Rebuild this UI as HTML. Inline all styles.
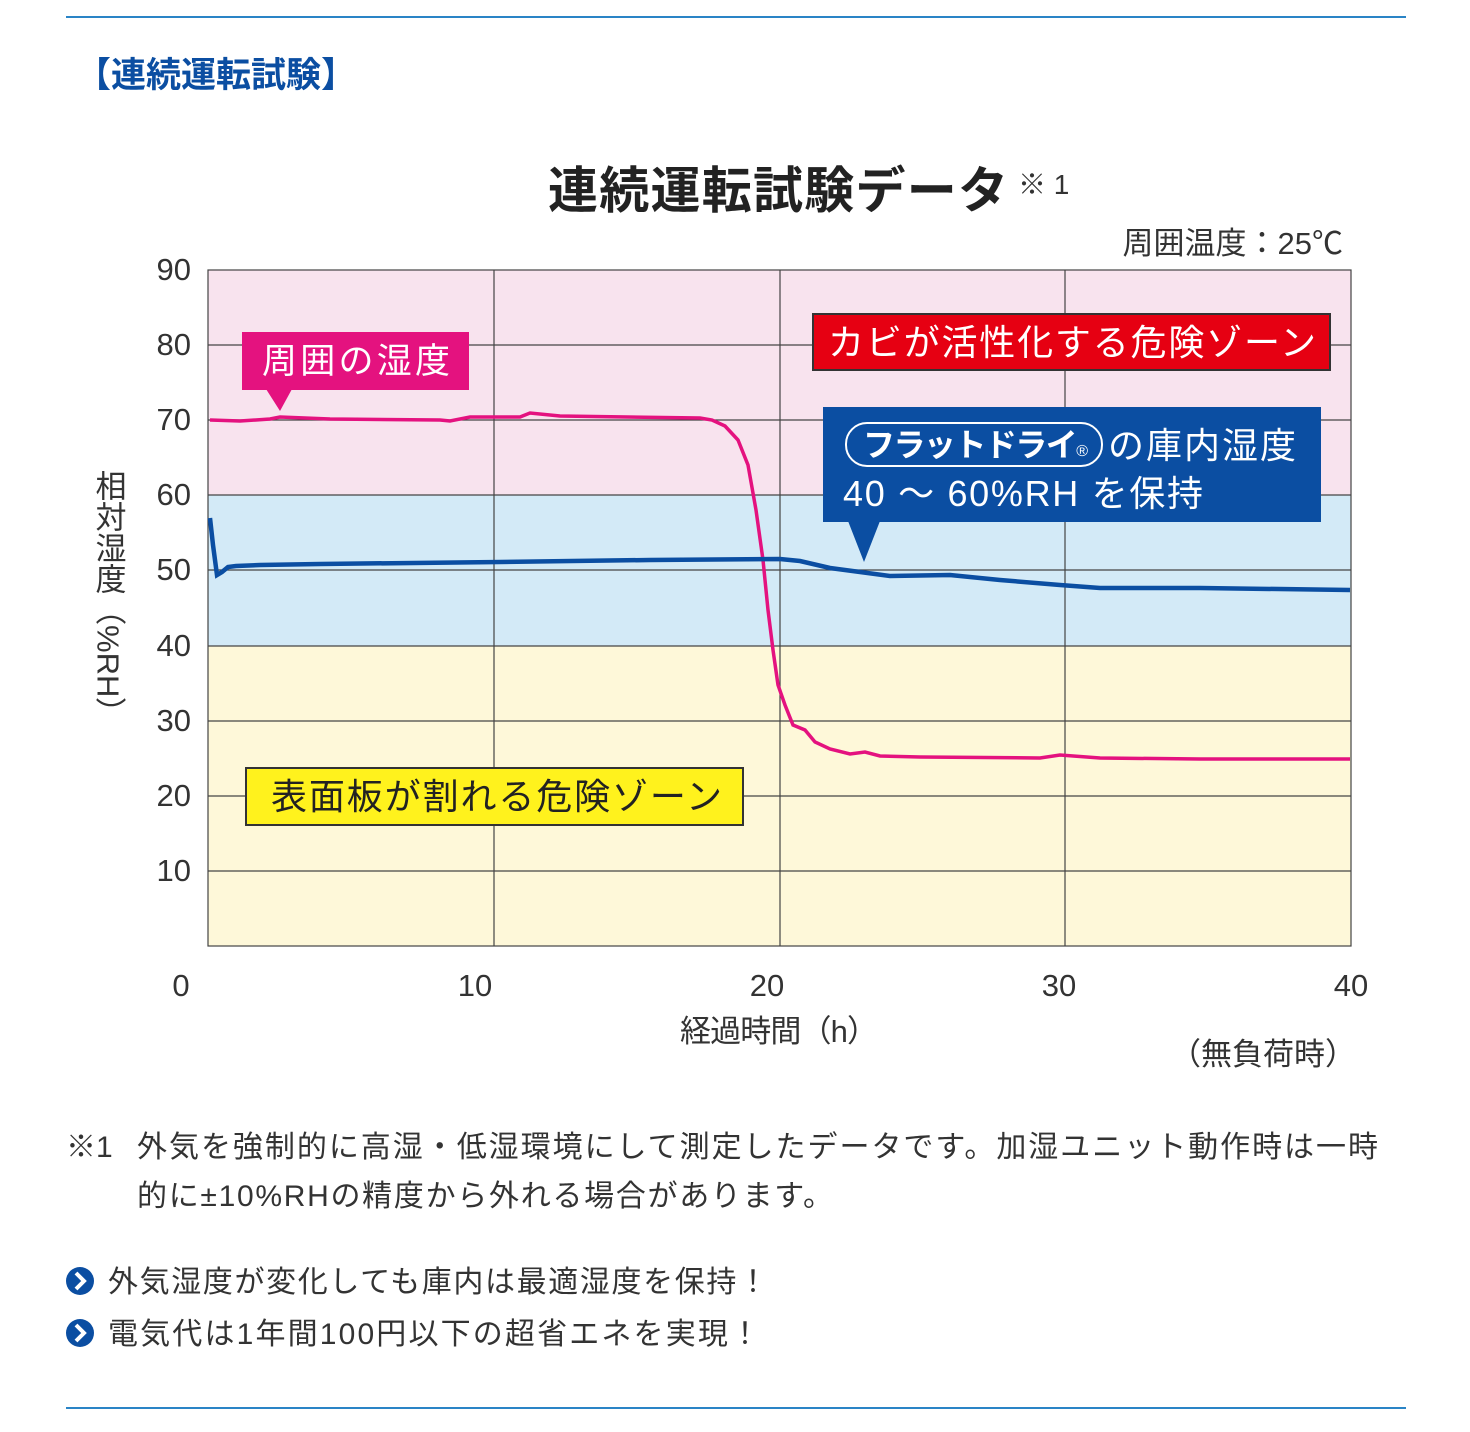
<!DOCTYPE html>
<html><head><meta charset="utf-8"><style>
body{margin:0;background:#fff;}
svg{display:block;font-family:"Liberation Sans","Noto Sans CJK JP",sans-serif;}
</style></head><body>
<svg width="1470" height="1432" viewBox="0 0 1470 1432" xmlns="http://www.w3.org/2000/svg">
<line x1="66" y1="17" x2="1406" y2="17" stroke="#2a84c6" stroke-width="2"/>
<line x1="66" y1="1408" x2="1406" y2="1408" stroke="#2a84c6" stroke-width="2"/>
<text x="76" y="87" font-size="35" font-weight="bold" fill="#0b4ea2">【連続運転試験】</text>
<text x="548" y="208" font-size="50" font-weight="bold" fill="#222" textLength="460" lengthAdjust="spacing">連続運転試験データ</text>
<text x="1018" y="194" font-size="28" fill="#333">※ 1</text>
<text x="1343" y="254" font-size="31" fill="#333" text-anchor="end">周囲温度：25℃</text>
<rect x="208" y="270" width="1143" height="225" fill="#f8e3ee"/>
<rect x="208" y="495" width="1143" height="151" fill="#d3eaf7"/>
<rect x="208" y="646" width="1143" height="300" fill="#fef8d9"/>
<g stroke="#444" stroke-width="1.2">
<line x1="208" y1="345" x2="1351" y2="345"/><line x1="208" y1="420" x2="1351" y2="420"/>
<line x1="208" y1="495" x2="1351" y2="495"/><line x1="208" y1="570" x2="1351" y2="570"/>
<line x1="208" y1="646" x2="1351" y2="646"/><line x1="208" y1="721" x2="1351" y2="721"/>
<line x1="208" y1="796" x2="1351" y2="796"/><line x1="208" y1="871" x2="1351" y2="871"/>
<line x1="494" y1="270" x2="494" y2="946"/><line x1="780" y1="270" x2="780" y2="946"/>
<line x1="1065" y1="270" x2="1065" y2="946"/>
<rect x="208" y="270" width="1143" height="676" fill="none"/>
</g>
<g font-size="31" fill="#333" text-anchor="end">
<text x="191" y="280">90</text><text x="191" y="355">80</text><text x="191" y="430">70</text>
<text x="191" y="505">60</text><text x="191" y="580">50</text><text x="191" y="656">40</text>
<text x="191" y="731">30</text><text x="191" y="806">20</text><text x="191" y="881">10</text>
</g>
<g font-size="31" fill="#333" text-anchor="middle">
<text x="181" y="996">0</text><text x="475" y="996">10</text><text x="767" y="996">20</text>
<text x="1059" y="996">30</text><text x="1351" y="996">40</text>
</g>
<text x="680" y="1042" font-size="31" fill="#333" textLength="198" lengthAdjust="spacing">経過時間（h）</text>
<text x="1356" y="1065" font-size="31" fill="#333" text-anchor="end">（無負荷時）</text>
<text font-size="31" fill="#333" x="108" y="470" style="writing-mode:vertical-rl">相対湿度（%RH）</text>
<polyline fill="none" stroke="#e4127f" stroke-width="3.5" points="210,420 240,421 270,419 280,417 330,419 440,420 450,421 470,417 520,417 530,413 560,416 700,418 712,420 725,426 738,440 748,465 756,510 763,560 768,610 773,650 778,685 785,705 793,725 805,730 815,742 830,749 850,754 865,752 880,756 920,757 1040,758 1060,755 1100,758 1200,759 1350,759"/>
<polyline fill="none" stroke="#0b4ea2" stroke-width="4.5" points="210,518 213,545 217,575 222,572 228,567 236,566 260,565 320,564 500,562 650,560 780,559 800,561 830,568 860,572 890,576 950,575 1000,580 1060,585 1100,588 1200,588 1350,590"/>
<rect x="242" y="332" width="227" height="58" fill="#e4127f"/>
<polygon points="266,389 292,389 280,411" fill="#e4127f"/>
<text x="262" y="373" font-size="35" fill="#fff" textLength="188" lengthAdjust="spacing">周囲の湿度</text>
<rect x="813" y="314" width="517" height="56" fill="#e60012" stroke="#333" stroke-width="2"/>
<text x="828" y="355" font-size="36" fill="#fff" textLength="488" lengthAdjust="spacing">カビが活性化する危険ゾーン</text>
<rect x="823" y="407" width="498" height="115" fill="#0b4ea2"/>
<polygon points="848,521 880,521 864,562" fill="#0b4ea2"/>
<rect x="846" y="423" width="256" height="43" rx="21" fill="none" stroke="#fff" stroke-width="2"/>
<text x="863" y="456" font-size="32" font-weight="bold" fill="#fff" textLength="225" lengthAdjust="spacing">フラットドライ<tspan font-size="16" font-weight="normal">®</tspan></text>
<text x="1108" y="458" font-size="36" fill="#fff" textLength="188" lengthAdjust="spacing">の庫内湿度</text>
<text x="843" y="506" font-size="36" fill="#fff" textLength="360" lengthAdjust="spacing">40 ～ 60%RH を保持</text>
<rect x="246" y="768" width="497" height="57" fill="#fff21d" stroke="#333" stroke-width="2"/>
<text x="271" y="809" font-size="36" fill="#222" textLength="451" lengthAdjust="spacing">表面板が割れる危険ゾーン</text>
<text x="66" y="1157" font-size="30" fill="#333">※1</text>
<text x="137" y="1157" font-size="30" fill="#333" textLength="1241" lengthAdjust="spacing">外気を強制的に高湿・低湿環境にして測定したデータです。加湿ユニット動作時は一時</text>
<text x="137" y="1206" font-size="30" fill="#333" textLength="696" lengthAdjust="spacing">的に±10%RHの精度から外れる場合があります。</text>
<circle cx="80" cy="1281" r="14" fill="#0b4ea2"/>
<polyline points="76,1273 84,1281 76,1289" fill="none" stroke="#fff" stroke-width="4"/>
<text x="108" y="1292" font-size="30" fill="#333" textLength="660" lengthAdjust="spacing">外気湿度が変化しても庫内は最適湿度を保持！</text>
<circle cx="80" cy="1333" r="14" fill="#0b4ea2"/>
<polyline points="76,1325 84,1333 76,1341" fill="none" stroke="#fff" stroke-width="4"/>
<text x="108" y="1344" font-size="30" fill="#333" textLength="652" lengthAdjust="spacing">電気代は1年間100円以下の超省エネを実現！</text>
</svg>
</body></html>
